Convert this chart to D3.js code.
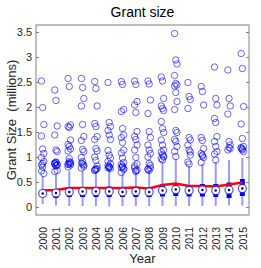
<!DOCTYPE html>
<html>
<head>
<meta charset="utf-8">
<script src="https://cdn.jsdelivr.net/npm/d3@7"></script>
<style>
  body { margin: 0; background: #fff; }
  svg { font-family: "Liberation Sans", Arial, sans-serif; }
</style>
</head>
<body>
<svg id="chart" width="261" height="268"></svg>
<script>
var years = ["2000", "2001", "2002", "2003", "2004", "2005", "2006", "2007",
             "2008", "2009", "2010", "2011", "2012", "2013", "2014", "2015"];
var yTicks = [0, 0.5, 1, 1.5, 2, 2.5, 3, 3.5];

// box stats (millions)
var q1 =      [0.20, 0.18, 0.20, 0.20, 0.20, 0.20, 0.20, 0.20, 0.20, 0.21, 0.22, 0.21, 0.21, 0.20, 0.18, 0.22];
var medians = [0.27, 0.28, 0.30, 0.31, 0.31, 0.31, 0.30, 0.31, 0.30, 0.33, 0.35, 0.33, 0.34, 0.33, 0.34, 0.37];
var q3 =      [0.34, 0.35, 0.40, 0.39, 0.39, 0.41, 0.39, 0.40, 0.38, 0.45, 0.47, 0.43, 0.46, 0.46, 0.49, 0.56];
var whiskLo = [0.06, 0.03, 0.02, 0.02, 0.02, 0.01, 0.02, 0.02, 0.02, 0.02, 0.02, 0.02, 0.02, 0.02, 0.03, 0.03];
var whiskHi = [0.62, 0.65, 0.72, 0.72, 0.70, 0.75, 0.68, 0.70, 0.72, 0.90, 0.96, 0.82, 0.86, 0.90, 0.94, 0.98];
var means =   [0.33, 0.34, 0.38, 0.38, 0.38, 0.38, 0.38, 0.39, 0.37, 0.44, 0.47, 0.42, 0.42, 0.41, 0.45, 0.49];

var outliers = [
  [2.52, 1.99, 1.65, 1.42, 1.16, 1.07, 0.99, 0.87, 0.91, 0.84, 0.80, 0.67, 0.72],
  [2.34, 2.13, 1.62, 1.44, 1.14, 1.11, 0.88, 0.89, 0.84, 0.86, 0.82, 0.73, 0.71, 0.90, 0.85, 0.87, 0.83],
  [2.57, 2.41, 1.64, 1.61, 1.59, 1.34, 1.25, 1.21, 1.16, 1.12, 0.97, 0.89, 0.86, 0.88, 0.84, 0.80, 0.91, 0.87, 0.85],
  [2.57, 2.39, 2.17, 2.02, 1.65, 1.41, 1.33, 1.15, 1.11, 0.99, 0.91, 0.84, 0.78, 0.86, 0.81, 0.88],
  [2.51, 2.37, 2.02, 1.67, 1.61, 1.41, 1.35, 1.17, 1.12, 1.00, 0.93, 0.77, 0.73, 0.75, 0.82, 0.74, 0.76],
  [2.49, 1.69, 1.61, 1.53, 1.44, 1.35, 1.13, 1.04, 0.98, 0.91, 0.80, 0.77, 0.83, 0.79, 0.86, 0.78, 0.81],
  [2.51, 2.45, 1.95, 1.91, 1.57, 1.44, 1.39, 1.29, 1.14, 1.08, 0.98, 0.89, 0.85, 0.80, 0.75, 0.69, 0.82, 0.77, 0.79],
  [2.52, 2.45, 2.11, 2.04, 1.89, 1.51, 1.41, 1.35, 1.24, 1.14, 0.99, 0.86, 0.78, 0.71, 0.74, 0.82, 0.73],
  [2.52, 2.46, 2.14, 1.87, 1.51, 1.39, 1.24, 1.14, 1.07, 1.00, 0.87, 0.78, 0.76, 0.73, 0.83, 0.75],
  [2.60, 2.52, 2.17, 2.02, 1.97, 1.93, 1.71, 1.57, 1.49, 1.34, 1.24, 1.14, 1.10, 1.05, 1.00, 0.97, 0.94, 1.02],
  [3.47, 2.94, 2.86, 2.63, 2.47, 2.44, 2.42, 2.29, 2.11, 1.95, 1.53, 1.49, 1.35, 1.31, 1.21, 1.11, 1.01],
  [2.49, 2.21, 2.15, 1.97, 1.39, 1.34, 1.24, 1.14, 1.04, 0.90, 0.86, 1.10],
  [2.41, 2.31, 2.04, 1.39, 1.33, 1.17, 1.07, 1.04, 0.99, 0.89, 1.02],
  [2.80, 2.17, 2.04, 1.77, 1.69, 1.41, 1.31, 1.21, 1.11, 1.06, 0.94],
  [2.74, 2.17, 2.02, 1.86, 1.31, 1.24, 1.14, 1.19, 1.17],
  [3.07, 2.77, 2.01, 1.66, 1.37, 1.21, 1.17, 1.14, 1.11, 1.19, 1.16]
];

var svg = d3.select("#chart");
var box = { left: 36, right: 249, top: 25, bottom: 215 };

var x = d3.scalePoint()
          .domain(years)
          .range([box.left, box.right])
          .padding(0.5);

var y = d3.scaleLinear()
          .domain([-0.16, 3.64])
          .range([box.bottom, box.top]);

var stats = years.map((yr, i) => ({
  year: yr, q1: q1[i], med: medians[i], q3: q3[i],
  lo: whiskLo[i], hi: whiskHi[i], mean: means[i]
}));

// outlier circles, small spread so stacked points stay visible
var pts = [];
outliers.forEach((list, i) => {
  list.forEach((v, j) => pts.push({ year: years[i], v: v, k: j }));
});

var plot = svg.append("g");

plot.selectAll(".whisker")
    .data(stats)
    .enter()
    .append("line")
      .classed("whisker", true)
      .attr("x1", d => x(d.year))
      .attr("x2", d => x(d.year))
      .attr("y1", d => y(d.lo))
      .attr("y2", d => y(d.hi))
      .attr("stroke", "#0000ff")
      .attr("stroke-opacity", 0.4)
      .attr("stroke-width", 2);

plot.selectAll(".outlier")
    .data(pts)
    .enter()
    .append("circle")
      .classed("outlier", true)
      .attr("cx", d => x(d.year) + ((d.k % 3) - 1) * 1.2)
      .attr("cy", d => y(d.v))
      .attr("r", 3.2)
      .attr("fill", "none")
      .attr("stroke", "#0000ff")
      .attr("stroke-opacity", 0.6)
      .attr("stroke-width", 1);

plot.selectAll(".boxbar")
    .data(stats)
    .enter()
    .append("line")
      .classed("boxbar", true)
      .attr("x1", d => x(d.year))
      .attr("x2", d => x(d.year))
      .attr("y1", d => y(d.q1))
      .attr("y2", d => y(d.q3))
      .attr("stroke", "#0000ff")
      .attr("stroke-width", 5);

var meanLine = d3.line()
                 .x(d => x(d.year))
                 .y(d => y(d.mean));

plot.append("path")
    .datum(stats)
    .attr("d", meanLine)
    .attr("fill", "none")
    .attr("stroke", "#ff0000")
    .attr("stroke-width", 2.5);

plot.selectAll(".med")
    .data(stats)
    .enter()
    .append("circle")
      .classed("med", true)
      .attr("cx", d => x(d.year))
      .attr("cy", d => y(d.med))
      .attr("r", 4)
      .attr("fill", "#fff")
      .attr("stroke", "#0000ff")
      .attr("stroke-opacity", 0.7)
      .attr("stroke-width", 1.2);

plot.selectAll(".meddot")
    .data(stats)
    .enter()
    .append("circle")
      .classed("meddot", true)
      .attr("cx", d => x(d.year))
      .attr("cy", d => y(d.med))
      .attr("r", 1.2)
      .attr("fill", "#000");

// axes frame
svg.append("rect")
    .attr("x", box.left)
    .attr("y", box.top)
    .attr("width", box.right - box.left)
    .attr("height", box.bottom - box.top)
    .attr("fill", "none")
    .attr("stroke", "#808080")
    .attr("stroke-width", 1);

var yAxis = d3.axisLeft(y).tickValues(yTicks).tickSize(-3).tickPadding(4)
              .tickFormat(d3.format("~g"));
var gy = svg.append("g")
    .attr("transform", "translate(" + box.left + ",0)")
    .call(yAxis);
gy.select(".domain").remove();
gy.selectAll("line").attr("stroke", "#808080");
gy.selectAll("text")
    .attr("fill", "#262626")
    .style("font-size", "11px");

var yAxisR = d3.axisRight(y).tickValues(yTicks).tickSize(-3).tickFormat("");
var gyr = svg.append("g")
    .attr("transform", "translate(" + box.right + ",0)")
    .call(yAxisR);
gyr.select(".domain").remove();
gyr.selectAll("line").attr("stroke", "#808080");

var xAxis = d3.axisBottom(x).tickSize(0).tickPadding(0);
var gx = svg.append("g")
    .attr("transform", "translate(0," + box.bottom + ")")
    .call(xAxis);
gx.select(".domain").remove();
gx.selectAll("text")
    .attr("transform", "rotate(-90)")
    .attr("x", -12)
    .attr("y", 0)
    .attr("dy", "0.35em")
    .style("text-anchor", "end")
    .style("font-size", "10.5px")
    .attr("fill", "#262626");

svg.append("text")
    .attr("x", (box.left + box.right) / 2)
    .attr("y", 17)
    .style("text-anchor", "middle")
    .style("font-size", "14px")
    .attr("fill", "#000")
    .text("Grant size");

svg.append("text")
    .attr("transform", "rotate(-90)")
    .attr("x", -(box.top + box.bottom) / 2)
    .attr("y", 16)
    .style("text-anchor", "middle")
    .style("font-size", "13px")
    .attr("fill", "#262626")
    .style("white-space", "pre")
    .text("Grant Size  (millions)");

svg.append("text")
    .attr("x", (box.left + box.right) / 2)
    .attr("y", 263)
    .style("text-anchor", "middle")
    .style("font-size", "13px")
    .attr("fill", "#262626")
    .text("Year");
</script>
</body>
</html>
